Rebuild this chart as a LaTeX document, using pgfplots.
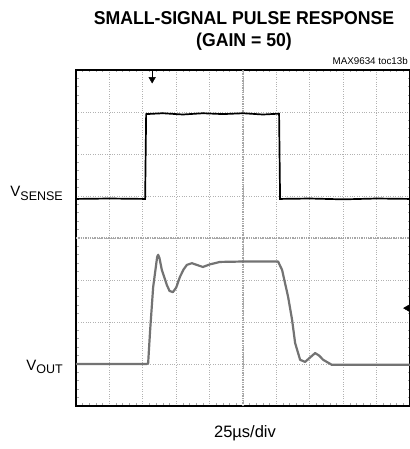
\documentclass[border=0pt]{standalone}
\usepackage{pgfplots}
\pgfplotsset{compat=1.18}
\usepackage{fontspec}
\setmainfont{Liberation Sans}
\newfontfamily\titlefont[FakeStretch=0.95]{Liberation Sans}

% scope traces, 1 div = 1 unit (10 x 8 divisions)
\pgfplotstableread{
x y
0.00 4.93
1.00 4.94
2.07 4.93
2.10 6.95
2.60 6.97
3.20 6.94
3.80 6.97
4.40 6.95
5.00 6.97
5.60 6.94
6.08 6.96
6.11 4.93
7.00 4.94
8.00 4.92
9.00 4.94
10.0 4.93
}\vsense

\pgfplotstableread{
x y
0.00 1.00
2.12 1.00
2.16 1.02
2.22 1.81
2.31 2.83
2.43 3.55
2.46 3.60
2.50 3.52
2.57 3.24
2.72 2.88
2.80 2.74
2.90 2.71
3.00 2.82
3.11 3.07
3.22 3.25
3.32 3.36
3.47 3.40
3.65 3.35
3.80 3.31
4.00 3.37
4.31 3.43
5.00 3.44
6.05 3.44
6.17 3.24
6.35 2.60
6.47 2.05
6.56 1.50
6.71 1.10
6.86 1.05
7.00 1.15
7.16 1.26
7.28 1.20
7.40 1.10
7.66 0.98
10.0 0.98
}\vout

\begin{document}
\begin{tikzpicture}[x=1pt,y=1pt]
\useasboundingbox (0,0) rectangle (409,449);

\begin{axis}[
    at={(76pt,43pt)}, anchor=south west,
    width=334pt, height=336pt, scale only axis,
    xmin=0, xmax=10, ymin=0, ymax=8,
    xtick={0,...,10}, ytick={0,...,8},
    xticklabels={}, yticklabels={},
    minor x tick num=4, minor y tick num=4,
    tick align=inside, major tick length=0pt, minor tick length=2.5pt,
    minor tick style={gray!70, line width=0.6pt},
    grid=major,
    major grid style={gray!60, dotted, line width=0.9pt},
    axis line style={line width=1.6pt},
    clip=false,
]
\draw[gray!70, densely dotted, line width=1.3pt] (axis cs:5,0) -- (axis cs:5,8);
\draw[gray!70, densely dotted, line width=1.3pt] (axis cs:0,4) -- (axis cs:10,4);

\addplot[black!55, line width=2.2pt, line join=round] table {\vout};
\addplot[black, line width=1.7pt] table {\vsense};

% trigger and ground markers
\addplot[black, line width=0.8pt] coordinates {(2.28,8) (2.28,7.8)};
\addplot[only marks, mark=triangle*, mark size=3.8pt, mark options={rotate=180, fill=black}] coordinates {(2.28,7.78)};
\addplot[only marks, mark=triangle*, mark size=3.8pt, mark options={rotate=90, fill=black}] coordinates {(9.92,2.33)};
\end{axis}

\node[anchor=base, font=\titlefont\bfseries\fontsize{18.6}{20}\selectfont] at (244,424) {SMALL-SIGNAL PULSE RESPONSE};
\node[anchor=base, font=\titlefont\bfseries\fontsize{18.6}{20}\selectfont] at (244,402) {(GAIN = 50)};
\node[anchor=base east, inner sep=0pt, font=\fontsize{9.8}{12}\selectfont] at (408,384) {MAX9634 toc13b};
\node[anchor=base east, inner sep=0pt, font=\fontsize{15}{17}\selectfont] at (63,252) {V\raisebox{-3.5pt}{\fontsize{12.5}{14}\selectfont SENSE}};
\node[anchor=base east, inner sep=0pt, font=\fontsize{15}{17}\selectfont] at (63,78) {V\raisebox{-3pt}{\fontsize{12.5}{14}\selectfont OUT}};
\node[anchor=base, inner sep=0pt, font=\fontsize{16.5}{18}\selectfont] at (245,11) {25µs/div};
\end{tikzpicture}
\end{document}
